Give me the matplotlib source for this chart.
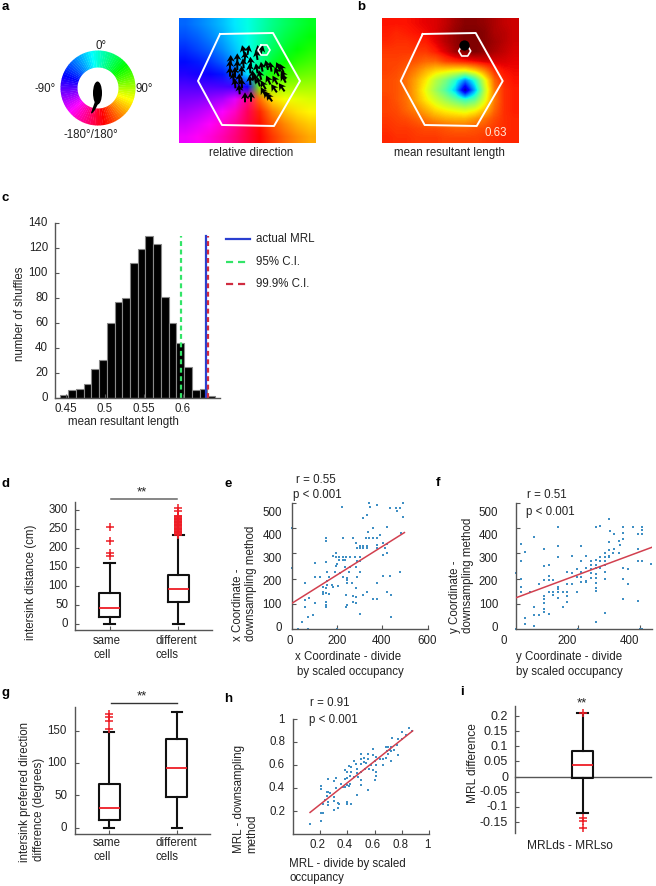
import numpy as np
import matplotlib
matplotlib.use("Agg")
import matplotlib.pyplot as plt
from matplotlib.colors import hsv_to_rgb
from matplotlib.patches import Wedge, Ellipse, Polygon

plt.rcParams['font.family'] = ['Liberation Sans', 'DejaVu Sans']
FS = 8.3
W, H = 656, 886
GREY = '#555555'

# ---------- panel a: relative direction (hue in degrees, rows top to bottom)
direction_hue = [
    [216,210,203,195,185,174,163,152,143,135,128],
    [222,217,209,200,188,175,161,148,137,129,122],
    [230,224,217,207,194,177,158,142,130,121,114],
    [238,234,228,218,203,180,153,132,119,110,105],
    [248,245,242,235,220,188,140,114,103,97,94],
    [259,258,258,257,255,242,91,84,83,82,81],
    [269,271,275,280,293,328,26,52,62,66,69],
    [279,283,289,299,314,339,9,31,45,53,58],
    [288,293,301,311,325,343,3,20,32,42,48],
    [296,302,309,319,331,345,359,13,24,33,40],
]
arena_x = [41, 94, 121, 95, 43, 19, 41]
arena_y = [16, 15, 63, 108, 107, 63, 16]
sink_a_x = [82, 88, 91, 88, 82, 79, 82]
sink_a_y = [27, 27, 32, 37, 37, 32, 27]
arrow_x = [64.3,69.3,79.3,82.7,77.7,66,51.7,58.3,51,58.3,64.3,51,56,62.7,54.3,60.3,56,62.7,60.3,
           71.7,71,73.7,71,76,79.3,82.7,81,87.7,89.3,91.7,99.3,102.7,97.7,104.3,96,104.3,95,102.7,
           84.3,84.3,87.7,90.3,66,72,77.7]
arrow_y = [32,32,32,32,37,38.7,42,40.3,47,47,45.3,53.7,53.7,52.7,59.3,60.3,65.3,65.3,71.3,
           43.7,50.3,57,62,60.3,63.7,48.7,57,47,62,48.7,48.7,50.3,53.7,57,62,60.3,70.3,69.3,
           67,73.7,77,79.3,79.3,78.7,50.3]
arrow_angle = [-15,10,-10,15,-10,5,0,0,0,0,-5,0,0,0,-5,0,-5,-5,-5,
               -5,-5,-5,-5,-10,-20,-10,-15,-15,-25,-10,-25,-25,-25,-30,-30,-30,-35,-35,
               -30,-30,-35,-35,0,0,-10]
ring_labels = ['0°', '-90°', '90°', '-180°/180°']

# ---------- panel b: mean resultant length map (jet position, rows top to bottom)
mrl_map = [
    [.89,.89,.89,.90,.91,.92,.94,.97,.99,.99,.98,.96,.94,.93],
    [.88,.87,.88,.89,.90,.92,.95,.98,1.0,1.0,.99,.96,.95,.93],
    [.87,.86,.86,.87,.88,.91,.95,.98,1.0,1.0,.99,.97,.95,.93],
    [.85,.85,.85,.85,.85,.88,.92,.97,1.0,1.0,.98,.96,.94,.92],
    [.84,.84,.83,.82,.80,.80,.84,.86,.88,.90,.92,.92,.92,.91],
    [.84,.83,.81,.77,.72,.68,.66,.64,.63,.68,.76,.86,.89,.90],
    [.83,.82,.79,.73,.66,.57,.50,.40,.25,.40,.62,.80,.87,.89],
    [.83,.82,.79,.72,.63,.54,.45,.32,.03,.30,.58,.78,.86,.88],
    [.84,.82,.79,.73,.66,.60,.54,.48,.42,.47,.62,.78,.86,.88],
    [.84,.83,.80,.77,.72,.67,.64,.62,.60,.63,.70,.80,.86,.88],
    [.85,.84,.83,.81,.78,.75,.73,.72,.72,.75,.79,.83,.86,.87],
    [.86,.85,.85,.84,.83,.83,.82,.81,.81,.82,.83,.85,.86,.87],
    [.87,.86,.86,.85,.85,.85,.84,.84,.84,.84,.85,.86,.87,.87],
]
sink_b_x = [80, 86, 89, 86, 80, 77, 80]
sink_b_y = [28, 28, 33, 38, 38, 33, 28]
peak_x, peak_y = [82.3], [27]

# ---------- panel c: shuffle histogram
shuffle_counts = [2,6,7,11,23,30,60,77,80,108,119,130,123,81,60,44,25,6,7,1]
first_bin, bin_width = 0.443, 0.0099
actual_mrl, ci95, ci999 = 0.630, 0.597, 0.632
line_top = 130

# ---------- panels d, g, i: box statistics
d_same = dict(med=41, q1=18, q3=82, whislo=0, whishi=160, fliers=[180, 187, 218, 256])
d_diff = dict(med=92, q1=58, q3=130, whislo=0, whishi=235,
              fliers=[236,238,240,242,244,246,248,250,252,254,256,258,260,262,264,266,268,270,
                      272,274,276,278,280,282,284,286,297,305])
g_same = dict(med=30, q1=12, q3=68, whislo=0, whishi=148, fliers=[153, 165, 172, 176])
g_diff = dict(med=93, q1=47, q3=138, whislo=0, whishi=179, fliers=[])
i_box = dict(med=0.0385, q1=-0.003, q3=0.0845, whislo=-0.12, whishi=0.211,
             fliers=[0.211, -0.135, -0.146, -0.168])

# ---------- panel e
e_x = [223,342,345,374,433,460,478,492,466,492,330,312,419,360,338,389,481,1,149,149,224,271,327,342,360,374,283,301,315,330,
       286,301,315,330,374,404,419,374,411,404,422,195,183,195,209,224,239,256,208,224,234,279,301,286,301,102,150,198,195,234,
       256,283,212,254,301,153,190,103,124,165,153,227,242,286,404,433,478,59,153,175,205,242,242,264,374,150,136,183,283,330,
       315,419,436,136,150,162,239,268,283,360,374,57,77,102,150,150,150,242,268,283,239,301,91,72,43,438,28,72,198,0,57,136]
e_y = [482,497,484,491,480,480,480,497,466,445,451,438,405,399,386,372,379,399,359,350,359,359,359,359,359,359,340,329,329,329,
       320,320,320,320,333,342,337,320,320,293,300,300,290,284,284,284,284,284,274,274,274,284,284,271,271,261,267,258,251,247,
       247,247,224,228,225,228,228,208,208,208,192,208,201,205,212,211,225,184,175,175,171,182,195,182,182,162,149,168,162,149,
       136,146,136,139,142,138,136,132,129,120,120,116,122,105,109,96,87,96,107,105,89,59,57,50,30,49,0,0,0,241,89,168]
e_fit_x, e_fit_y = [0, 497], [103, 382]

# ---------- panel f
f_x = [301,136,257,273,346,377,408,303,408,317,346,393,408,59,14,29,90,136,211,301,333,346,336,316,301,287,314,332,393,16,
       136,181,226,301,287,273,257,241,211,273,287,301,393,408,438,90,106,241,257,287,0,165,181,196,211,226,241,257,273,346,
       363,241,257,287,14,90,106,106,120,196,211,226,241,257,287,346,74,165,181,211,226,257,363,14,14,44,106,120,136,136,
       136,150,165,196,257,257,90,90,90,120,165,136,346,393,59,152,165,90,90,74,106,59,29,29,59,257,287,0,201,400,408]
f_y = [436,405,405,409,405,405,405,388,392,376,379,375,376,366,337,307,317,330,329,346,350,357,333,317,313,303,300,300,317,271,
       287,290,291,290,284,284,274,271,271,271,271,287,271,271,257,250,254,254,254,254,221,225,221,238,228,241,238,241,241,241,
       238,221,218,225,199,195,212,195,195,208,205,192,201,201,199,199,179,179,179,188,188,182,179,166,149,149,149,149,166,158,
       149,149,149,149,162,153,132,118,103,136,132,122,120,112,89,89,107,79,70,57,59,57,43,20,14,30,64,0,0,0,0]
f_fit_x, f_fit_y = [0, 440], [125, 324]

# ---------- panel h
h_x = [.85,.87,.80,.73,.77,.80,.83,.59,.68,.70,.72,.74,.76,.71,.69,.72,.64,.59,.55,.50,.45,.50,.52,.46,.41,.43,.47,.50,.54,.57,
       .60,.61,.66,.66,.61,.52,.55,.77,.72,.68,.70,.38,.40,.43,.47,.50,.53,.56,.59,.61,.61,.60,.42,.45,.48,.50,.40,.32,.26,.30,
       .35,.38,.21,.21,.25,.26,.27,.37,.40,.42,.41,.38,.50,.55,.47,.32,.30,.25,.24,.26,.30,.33,.34,.40,.40,.43,.22,.26,.30,.33,
       .21,.22,.21,.13]
h_y = [.92,.90,.89,.84,.83,.83,.86,.74,.76,.76,.76,.73,.78,.73,.72,.72,.65,.69,.70,.70,.64,.65,.66,.61,.59,.58,.57,.61,.62,.60,
       .64,.67,.65,.60,.60,.63,.65,.69,.64,.66,.70,.56,.54,.54,.53,.54,.57,.57,.56,.54,.51,.47,.51,.50,.50,.47,.49,.49,.48,.46,
       .44,.48,.42,.39,.37,.37,.36,.41,.43,.44,.42,.41,.43,.38,.34,.40,.32,.33,.30,.28,.29,.27,.26,.28,.26,.26,.26,.25,.21,.23,
       .18,.18,.11,.09]
h_fit_x, h_fit_y = [.127, .878], [.188, .899]

# ---------- tick labels
c_xticks, c_yticks = [0.45, 0.5, 0.55, 0.6], [0, 20, 40, 60, 80, 100, 120, 140]
d_yticks = [0, 50, 100, 150, 200, 250, 300]
g_yticks = [0, 50, 100, 150]
coord_ylabels = ['500', '400', '300', '200', '100', '0']
h_xlabels = ['0.2', '0.4', '0.6', '0.8', '1']
h_ylabels = ['1', '0.8', '0.6', '0.4', '0.2']
i_ylabels = ['0.2', '0.15', '0.1', '0.05', '0', '-0.05', '-0.1', '-0.15']

fig = plt.figure(figsize=(W / 100, H / 100), dpi=100)


def axes_px(x0, ytop, x1, ybot):
    ax = fig.add_axes([x0 / W, 1 - ybot / H, (x1 - x0) / W, (ybot - ytop) / H])
    ax.patch.set_alpha(0)
    return ax


def style(ax):
    for s in ('top', 'right'):
        ax.spines[s].set_visible(False)
    for s in ('left', 'bottom'):
        ax.spines[s].set_color(GREY)
        ax.spines[s].set_linewidth(1.0)
    ax.tick_params(direction='in', length=3, width=0.8, color=GREY, labelbottom=False, labelleft=False)


ov = axes_px(0, 0, W, H)
ov.set_xlim(0, W)
ov.set_ylim(H, 0)
ov.axis('off')
ov.set_zorder(10)


def T(x, y, s, ha='center', va='center', size=FS, **kw):
    ov.text(x, y, s, ha=ha, va=va, fontsize=size, color=kw.pop('color', '#222222'), **kw)


for lab, x, y in [('a', 5, 7), ('b', 361, 7), ('c', 5, 198), ('d', 5, 484), ('e', 228, 484), ('f', 438, 483),
                  ('g', 5, 693), ('h', 228, 699), ('i', 462, 692)]:
    T(x, y, lab, ha='center', size=9.5, fontweight='bold', color='black')

# ---- a: ring
cx, cy = 98, 88
for th in np.arange(-180, 180, 4):
    hue = ((170 - (th + 2)) % 360) / 360
    ov.add_patch(Wedge((cx, cy), 37.5, th - 90, th - 90 + 4.6, width=17,
                       color=hsv_to_rgb([hue, 1, 1]), lw=0))
ov.add_patch(Ellipse((97.5, 93), 9, 23, color='black', lw=0))
ov.add_patch(Polygon([[95.5, 100], [99.5, 101], [95, 110], [92, 113.5], [91, 113]], color='black', lw=0))
for (x, y), s in zip([(101, 46), (45, 89), (144, 89), (91, 135)], ring_labels):
    T(x, y, s)

ax = axes_px(179, 18, 316, 143)
ax.imshow(hsv_to_rgb(np.dstack([(np.array(direction_hue) % 360) / 360,
                                np.ones((10, 11)), np.ones((10, 11))])),
          extent=(0, 137, 125, 0), aspect='auto', interpolation='bilinear')
ax.plot(arena_x, arena_y, color='white', lw=1.4)
ax.plot(sink_a_x, sink_a_y, color='white', lw=1.2)
rad = np.deg2rad(arrow_angle)
ax.quiver(arrow_x, arrow_y, 10 * np.sin(rad), -10 * np.cos(rad), angles='xy', scale_units='xy', scale=1,
          units='dots', width=2.0, headwidth=4.0, headlength=3.4, headaxislength=2.6, pivot='middle', color='black')
ax.set_xlim(0, 137)
ax.set_ylim(125, 0)
ax.axis('off')
T(251, 153, 'relative direction')

# ---- b
ax = axes_px(381.7, 18, 518, 143)
ax.imshow(np.array(mrl_map), cmap='jet', vmin=0, vmax=1, extent=(0, 136.3, 125, 0), aspect='auto',
          interpolation='bilinear')
ax.plot(arena_x, arena_y, color='white', lw=1.4)
ax.plot(sink_b_x, sink_b_y, color='white', lw=1.2)
ax.plot(peak_x, peak_y, 'o', color='black', ms=7.4, mew=0)
ax.set_xlim(0, 136.3)
ax.set_ylim(125, 0)
ax.axis('off')
T(496, 133, '0.63', color='#ffe8d8')
T(449, 153, 'mean resultant length')

# ---- c
ax = axes_px(55, 223.3, 220, 397.7)
edges = first_bin + bin_width * np.arange(len(shuffle_counts))
ax.bar(edges, shuffle_counts, width=bin_width, align='edge', color='black', edgecolor='#888888', lw=0.8)
ax.plot([actual_mrl] * 2, [0, line_top], color='#2a3fd0', lw=1.6)
ax.plot([ci95] * 2, [0, line_top], color='#33e468', lw=1.6, ls=(0, (2.2, 1.6)))
ax.plot([ci999] * 2, [0, line_top], color='#d02c40', lw=1.6, ls=(0, (2.2, 1.6)))
ax.set_xlim(0.436, 0.6474)
ax.set_ylim(0, 140)
ax.set_xticks(c_xticks)
ax.set_yticks(c_yticks)
style(ax)
for v in c_yticks:
    T(48, 397.7 - v * 174.4 / 140, str(v), ha='right')
for v in c_xticks:
    T(66 + (v - 0.45) * 780, 408.5, f'{v:g}')
T(123, 422, 'mean resultant length')
T(20, 314, 'number of shuffles', rotation=90)
for (y, col, ls, s) in [(239, '#2a3fd0', '-', 'actual MRL'), (262, '#33e468', (0, (3.2, 2.2)), '95% C.I.'),
                        (284, '#d02c40', (0, (3.2, 2.2)), '99.9% C.I.')]:
    ov.plot([226, 249.5], [y, y], color=col, lw=1.6, ls=ls)
    T(256, y, s, ha='left')


# ---- box panels
def box(ax, stats, pos, width, cap):
    ax.bxp(stats, positions=pos, widths=width, capwidths=cap, manage_ticks=False,
           boxprops=dict(color='#111111', lw=1.5), whiskerprops=dict(color='#111111', lw=1.5, ls='-'),
           capprops=dict(color='#111111', lw=1.5), medianprops=dict(color='#ee1c25', lw=1.3),
           flierprops=dict(marker='+', markeredgecolor='#ee1c25', ms=5.5, mew=1.1))


ax = axes_px(74.5, 502, 212, 630)
box(ax, [d_same, d_diff], [1, 2], 0.30, 0.155)
ax.set_xlim(0.49, 2.49)
ax.set_ylim(-16, 322)
ax.set_xticks([1, 2])
ax.set_yticks(d_yticks)
style(ax)
for v in d_yticks:
    T(68, 624 - v * 113.7 / 300, str(v), ha='right')
for x, a, b in [(93, 'same', 'cell'), (155.7, 'different', 'cells')]:
    T(x, 641, a, ha='left')
    T(x, 655, b, ha='left')
T(30.7, 582, 'intersink distance (cm)', rotation=90)
ov.plot([110.7, 176.7], [498.7, 498.7], color='#666666', lw=1.1)
T(141.7, 492, '**', size=9.5)

ax = axes_px(74.5, 706.7, 210, 833.7)
box(ax, [g_same, g_diff], [1, 2], 0.31, 0.155)
ax.set_xlim(0.49, 2.49)
ax.set_ylim(-9.4, 188)
ax.set_xticks([1, 2])
ax.set_yticks(g_yticks)
style(ax)
for v in g_yticks:
    T(67, 827.7 - v * 96.4 / 150, str(v), ha='right')
for x, a, b in [(93, 'same', 'cell'), (155.7, 'different', 'cells')]:
    T(x, 843, a, ha='left')
    T(x, 857, b, ha='left')
T(25, 861.7, 'intersink preferred direction', rotation=90, va='bottom')
T(39, 861, 'difference (degrees)', rotation=90, va='bottom')
ov.plot([111, 177], [703.3, 703.3], color='#333333', lw=1.0)
T(141.7, 696, '**', size=9.5)


# ---- scatter panels
def scatter(ax, x, y, fx, fy):
    ax.scatter(x, y, s=2.6, marker='s', color='#3f8fc4', lw=0, clip_on=False, zorder=2)
    ax.plot(fx, fy, color='#d2404f', lw=1.1, zorder=3)


coord_label_y = [513.3, 536, 559.3, 582.3, 605, 628.3]

ax = axes_px(292, 502.7, 427.7, 629.3)
scatter(ax, e_x, e_y, e_fit_x, e_fit_y)
ax.set_xlim(0, 600)
ax.set_ylim(0, 500)
ax.set_xticks([200, 400, 600])
ax.set_yticks([100, 200, 300, 400, 500])
style(ax)
for y, s in zip(coord_label_y, coord_ylabels):
    T(282, y, s, ha='right')
for x, s in zip([290, 336.7, 381.7, 426.7], ['0', '200', '400', '600']):
    T(x, 640.7, s)
T(295.7, 480, 'r = 0.55', ha='left')
T(293, 495, 'p < 0.001', ha='left')
T(238, 641, 'x Coordinate -', rotation=90, va='bottom')
T(251, 641, 'downsampling method', rotation=90, va='bottom')
T(295, 657, 'x Coordinate - divide', ha='left')
T(297, 672.5, 'by scaled occupancy', ha='left')

ax = axes_px(516.3, 502.7, 652, 629.3)
scatter(ax, f_x, f_y, f_fit_x, f_fit_y)
ax.set_xlim(0, 440)
ax.set_ylim(0, 500)
ax.set_xticks([200, 400])
ax.set_yticks([100, 200, 300, 400, 500])
style(ax)
for y, s in zip(coord_label_y, coord_ylabels):
    T(498.3, y, s, ha='right')
for x, s in zip([504, 566.7, 629], ['0', '200', '400']):
    T(x, 640.7, s)
T(527, 495, 'r = 0.51', ha='left')
T(526, 512, 'p < 0.001', ha='left')
T(455, 633, 'y Coordinate -', rotation=90, va='bottom')
T(468, 633, 'downsampling method', rotation=90, va='bottom')
T(516, 657, 'y Coordinate - divide', ha='left')
T(516, 672.5, 'by scaled occupancy', ha='left')

ax = axes_px(292.7, 719.3, 429.3, 834)
scatter(ax, h_x, h_y, h_fit_x, h_fit_y)
ax.set_xlim(0, 1)
ax.set_ylim(0, 1)
ax.set_xticks([0.2, 0.4, 0.6, 0.8, 1])
ax.set_yticks([0.2, 0.4, 0.6, 0.8, 1])
style(ax)
for x, s in zip([317.3, 345, 372.7, 400.7, 427.3], h_xlabels):
    T(x, 845, s)
for y, s in zip([720, 742.3, 765, 788.3, 811.7], h_ylabels):
    T(285, y, s, ha='right')
T(310, 702.7, 'r = 0.91', ha='left')
T(308.7, 720, 'p < 0.001', ha='left')
T(239.3, 852.7, 'MRL - downsampling', rotation=90, va='bottom')
T(252, 852.7, 'method', rotation=90, va='bottom')
T(289.3, 864, 'MRL - divide by scaled', ha='left')
T(289.3, 878.3, 'occupancy', ha='left')

# ---- i
ax = axes_px(514.7, 706, 651, 833.3)
box(ax, [i_box], [1], 0.152, 0.08)
ax.set_xlim(0.5, 1.5)
ax.set_ylim(-0.187, 0.233)
ax.set_xticks([])
ax.set_yticks([0.2, 0.15, 0.1, 0.05, 0, -0.05, -0.1, -0.15])
style(ax)
ax.spines['bottom'].set_position(('data', 0))
ax.spines['bottom'].set_zorder(1)
for y, s in zip([716.7, 731.7, 747.3, 762.3, 777.7, 792.3, 806.7, 822.7], i_ylabels):
    T(508, y, s, ha='right', size=9)
T(582.3, 703.5, '**', size=9.5)
T(570, 845.7, 'MRLds - MRLso', size=8.6)
T(473, 763, 'MRL difference', rotation=90, size=8.6)

fig.savefig('out.png', dpi=100)
